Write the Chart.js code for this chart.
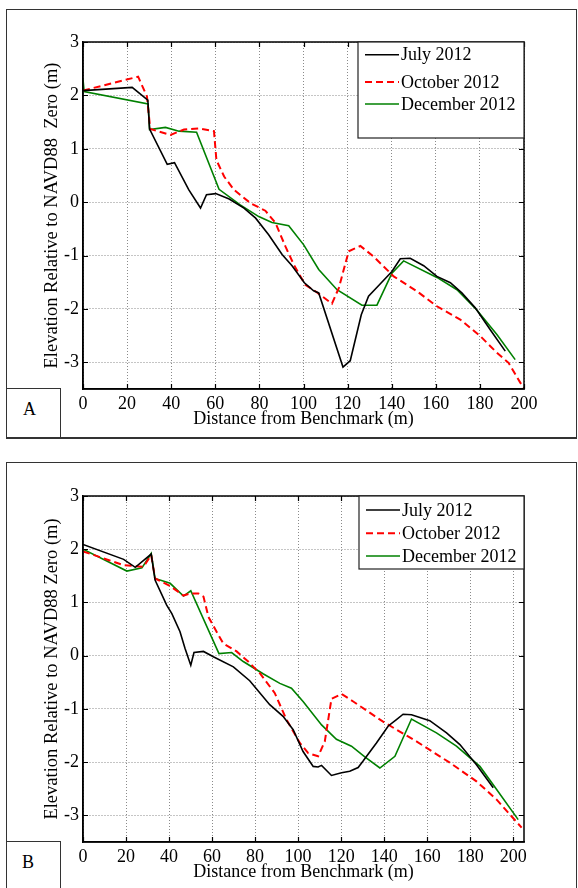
<!DOCTYPE html>
<html>
<head>
<meta charset="utf-8">
<title>Beach profiles A and B</title>
<script src="https://cdn.jsdelivr.net/npm/chart.js@4.4.1/dist/chart.umd.min.js"></script>
<style>
  html, body { margin: 0; padding: 0; background: #fff; overflow: hidden; }
  body { position: relative; width: 578px; height: 888px; font-family: "Liberation Serif", "Times New Roman", serif; }
  .box { position: absolute; box-sizing: border-box; border: 1.5px solid #333; }
  .tag { position: absolute; font-size: 18px; line-height: 18px; color: #000; }
  canvas { position: absolute; left: 0; }
</style>
</head>
<body>
<div class="box" style="left:6px;top:9px;width:571px;height:430px;border-bottom-width:2.5px"></div>
<div class="box" style="left:6px;top:462px;width:571px;height:460px"></div>
<div class="box" style="left:6px;top:387.5px;width:55px;height:51.5px;border-bottom-width:2.5px"></div>
<div class="tag" style="left:23px;top:400px">A</div>
<div class="box" style="left:6px;top:841px;width:55px;height:80px"></div>
<div class="tag" style="left:22px;top:853px">B</div>
<canvas id="chartA" width="578" height="444" style="top:0"></canvas>
<canvas id="chartB" width="578" height="444" style="top:444px"></canvas>
<script>
const seriesLabels = ['July 2012', 'October 2012', 'December 2012'];
const xTicks = [0, 20, 40, 60, 80, 100, 120, 140, 160, 180, 200];
const yTicks = [-3, -2, -1, 0, 1, 2, 3];

// panel A
const distA_jul = [0, 22.3, 29.4, 30.2, 38.2, 41.5, 48, 53.3, 56, 60.2, 66.3, 73, 78.3, 84.2, 90.3, 94.8, 100.4, 104.6, 106.9, 117.9, 121.2, 126.2, 129.5, 134.1, 140.1, 143.9, 148.4, 154.5, 160.5, 166.6, 171.8, 177.9, 184.7, 191.5];
const elevA_jul = [2.09, 2.15, 1.91, 1.37, 0.71, 0.74, 0.23, -0.11, 0.14, 0.16, 0.06, -0.11, -0.3, -0.61, -0.98, -1.19, -1.51, -1.66, -1.70, -3.09, -2.97, -2.11, -1.76, -1.56, -1.30, -1.06, -1.05, -1.19, -1.39, -1.51, -1.70, -1.98, -2.39, -2.79];
const distA_oct = [0, 25, 29, 30.5, 39.7, 45.8, 52.6, 59.4, 60.5, 64, 68.5, 76, 82.7, 87.3, 91.8, 95.6, 100.8, 105.4, 112.9, 116, 120.5, 125.8, 131.8, 140.9, 151.5, 160.5, 171.1, 180.2, 187.7, 193, 198.3, 200];
const elevA_oct = [2.09, 2.35, 1.98, 1.37, 1.26, 1.36, 1.38, 1.33, 0.79, 0.48, 0.23, -0.02, -0.16, -0.39, -0.83, -1.17, -1.55, -1.67, -1.90, -1.61, -0.92, -0.82, -1.02, -1.39, -1.67, -1.95, -2.2, -2.51, -2.82, -3.01, -3.38, -3.48];
const distA_dec = [0, 0.5, 29.5, 30.2, 37.4, 43.5, 51.5, 61.7, 71.3, 79.7, 85.7, 93.3, 100.1, 106.9, 115.2, 126.5, 133.3, 140.1, 145.4, 160.5, 169.6, 178.6, 187.7, 196];
const elevA_dec = [2.3, 2.07, 1.84, 1.36, 1.40, 1.33, 1.31, 0.24, -0.05, -0.27, -0.38, -0.44, -0.8, -1.26, -1.64, -1.93, -1.93, -1.33, -1.10, -1.41, -1.64, -2.02, -2.48, -2.95];

// panel B
const distB_jul = [0, 18.9, 24.3, 31.7, 33.5, 38.9, 41.3, 45.1, 47.4, 50.1, 51.6, 56, 60.6, 69.9, 77.5, 86.8, 93, 97.7, 102.3, 107, 109.3, 110.9, 115.5, 120.2, 124, 127.9, 130.2, 136.4, 141.9, 145.7, 148.8, 152.7, 161.2, 169, 175.2, 182.9, 190.7];
const elevB_jul = [2.09, 1.81, 1.66, 1.91, 1.42, 0.95, 0.79, 0.45, 0.14, -0.18, 0.06, 0.08, -0.02, -0.21, -0.47, -0.92, -1.14, -1.39, -1.80, -2.08, -2.09, -2.06, -2.25, -2.20, -2.17, -2.10, -1.98, -1.64, -1.32, -1.20, -1.10, -1.11, -1.22, -1.45, -1.67, -2.05, -2.48];
const distB_oct = [0, 18.9, 28.1, 31.7, 33.5, 40.5, 46.7, 49.8, 53.6, 56, 58.3, 62.1, 65.2, 71.4, 76.8, 82.2, 89.1, 94.6, 100.8, 104.7, 109.3, 112.4, 114, 115.5, 120.2, 125.6, 139.5, 155, 170.5, 182.9, 192.2, 203.9];
const elevB_oct = [1.96, 1.7, 1.67, 1.89, 1.45, 1.31, 1.13, 1.17, 1.17, 1.11, 0.73, 0.45, 0.23, 0.08, -0.11, -0.33, -0.70, -1.20, -1.64, -1.83, -1.89, -1.61, -1.20, -0.81, -0.72, -0.86, -1.24, -1.61, -2.01, -2.36, -2.70, -3.23];
const distB_dec = [0, 20.4, 27.4, 31.7, 33.5, 40.5, 46.7, 50.1, 63.2, 69.1, 74.5, 83.7, 91.5, 96.9, 102.3, 110.9, 117.8, 124.8, 131, 138, 145, 152.7, 164.3, 173.6, 184.5, 192.2, 202.3];
const elevB_dec = [2.0, 1.59, 1.65, 1.92, 1.45, 1.36, 1.12, 1.22, 0.04, 0.06, -0.11, -0.34, -0.52, -0.61, -0.86, -1.30, -1.57, -1.70, -1.90, -2.11, -1.89, -1.19, -1.45, -1.70, -2.08, -2.51, -3.08];

const lineStyles = [
    { color: '#000000', width: 1.6, dash: [] },
    { color: '#ff0000', width: 2, dash: [7, 4] },
    { color: '#008000', width: 1.6, dash: [] }
];
const gridColor = '#8a8a8a';

Chart.defaults.font.family = '"Liberation Serif", "Times New Roman", serif';
Chart.defaults.color = '#000';

// matlab-like box: full frame, inward ticks, boxed legend top right
const panelFrame = {
    id: 'panelFrame',
    afterDatasetsDraw(chart, args, opts) {
        const { ctx, chartArea: a, scales: { x, y } } = chart;
        ctx.save();
        ctx.strokeStyle = '#000';
        ctx.lineWidth = 1.5;
        ctx.strokeRect(a.left, a.top, a.right - a.left, a.bottom - a.top);

        ctx.lineWidth = 1.2;
        ctx.beginPath();
        x.ticks.forEach(t => {
            const px = Math.round(x.getPixelForValue(t.value)) + 0.5;
            ctx.moveTo(px, a.bottom); ctx.lineTo(px, a.bottom - 5);
            ctx.moveTo(px, a.top); ctx.lineTo(px, a.top + 5);
        });
        y.ticks.forEach(t => {
            const py = Math.round(y.getPixelForValue(t.value)) + 0.5;
            ctx.moveTo(a.left, py); ctx.lineTo(a.left + 5, py);
            ctx.moveTo(a.right, py); ctx.lineTo(a.right - 5, py);
        });
        ctx.stroke();

        const L = opts.legend;
        const lx = a.right - L.width, ly = a.top;
        ctx.fillStyle = '#fff';
        ctx.fillRect(lx, ly, L.width, L.height);
        ctx.strokeStyle = '#222';
        ctx.lineWidth = 1.2;
        ctx.strokeRect(lx, ly, L.width, L.height);
        ctx.font = '18px "Liberation Serif"';
        ctx.textBaseline = 'middle';
        chart.data.datasets.forEach((ds, i) => {
            const ry = ly + L.rows[i];
            ctx.beginPath();
            ctx.setLineDash(ds.borderDash || []);
            ctx.strokeStyle = ds.borderColor;
            ctx.lineWidth = ds.borderWidth;
            ctx.moveTo(lx + 7, ry);
            ctx.lineTo(lx + 41, ry);
            ctx.stroke();
            ctx.setLineDash([]);
            ctx.fillStyle = '#000';
            ctx.fillText(ds.label, lx + 43, ry + 1);
        });
        ctx.restore();
    }
};

function pts(xs, ys) {
    return xs.map((v, i) => ({ x: v, y: ys[i] }));
}

function makePanel(id, series, p) {
    const datasets = series.map((s, i) => ({
        label: seriesLabels[i],
        data: pts(s[0], s[1]),
        borderColor: lineStyles[i].color,
        borderWidth: lineStyles[i].width,
        borderDash: lineStyles[i].dash,
        pointRadius: 0,
        fill: false,
        tension: 0
    }));

    return new Chart(document.getElementById(id), {
        type: 'line',
        data: { datasets: datasets },
        plugins: [panelFrame],
        options: {
            responsive: false,
            animation: false,
            devicePixelRatio: 1,
            events: [],
            layout: { padding: { top: p.top, right: 54, bottom: 0, left: 0 } },
            plugins: {
                legend: { display: false },
                tooltip: { enabled: false },
                panelFrame: { legend: p.legend }
            },
            scales: {
                x: {
                    type: 'linear',
                    min: 0,
                    max: p.xMax,
                    afterBuildTicks: s => { s.ticks = xTicks.map(v => ({ value: v })); },
                    afterFit: s => { s.height = p.xHeight; },
                    ticks: { autoSkip: false, maxRotation: 0, padding: 4, font: { size: 18 }, color: '#000' },
                    grid: { color: gridColor, lineWidth: 1, drawTicks: false },
                    border: { color: '#000', width: 1.5, dash: [1, 2] },
                    title: {
                        display: true,
                        text: 'Distance from Benchmark (m)',
                        color: '#000',
                        font: { size: 18 },
                        padding: { top: 0, bottom: p.xTitlePad }
                    }
                },
                y: {
                    type: 'linear',
                    min: -3.5,
                    max: 3,
                    afterBuildTicks: s => { s.ticks = yTicks.map(v => ({ value: v })); },
                    afterFit: s => { s.width = 83; },
                    ticks: { padding: 4, font: { size: 18 }, color: '#000' },
                    grid: { color: gridColor, lineWidth: 1, drawTicks: false },
                    border: { color: '#000', width: 1.5, dash: [1, 2] },
                    title: {
                        display: true,
                        text: p.yTitle,
                        color: '#000',
                        font: { size: 18.5 },
                        padding: { top: 41, bottom: 0 }
                    }
                }
            }
        }
    });
}

makePanel('chartA', [[distA_jul, elevA_jul], [distA_oct, elevA_oct], [distA_dec, elevA_dec]], {
    top: 42, xMax: 200, xHeight: 55, xTitlePad: 14,
    yTitle: 'Elevation Relative to NAVD88  Zero (m)',
    legend: { width: 166, height: 96, rows: [12.7, 40, 62] }
});

makePanel('chartB', [[distB_jul, elevB_jul], [distB_oct, elevB_oct], [distB_dec, elevB_dec]], {
    top: 52, xMax: 205, xHeight: 46, xTitlePad: 4.6,
    yTitle: 'Elevation Relative to NAVD88 Zero (m)',
    legend: { width: 165, height: 73, rows: [14, 37.3, 60] }
});
</script>
</body>
</html>
